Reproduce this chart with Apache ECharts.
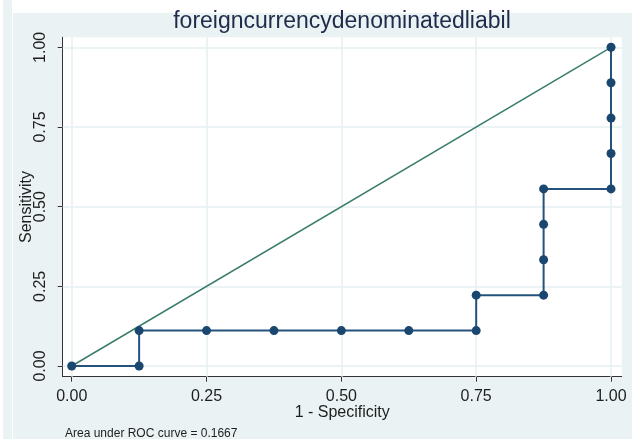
<!DOCTYPE html>
<html>
<head>
<meta charset="utf-8">
<script src="https://cdn.jsdelivr.net/npm/echarts@6/dist/echarts.min.js"></script>
<style>
  html, body { margin: 0; padding: 0; background: #ffffff; }
  #chart { width: 632px; height: 439px; }
</style>
</head>
<body>
<div id="chart"></div>
<script>
// ROC curve points: false positive rate (1 - specificity) and sensitivity
const fpr = [0, 0.125, 0.125, 0.25, 0.375, 0.5, 0.625, 0.75, 0.75, 0.875, 0.875, 0.875, 0.875, 1, 1, 1, 1, 1];
const sensitivity = [0, 0, 0.1111, 0.1111, 0.1111, 0.1111, 0.1111, 0.1111, 0.2222, 0.2222, 0.3333, 0.4444, 0.5556, 0.5556, 0.6667, 0.7778, 0.8889, 1];
// Chance reference line
const refX = [0, 1];
const refY = [0, 1];
// Axis ticks shared by both axes
const tickValues = [0, 0.25, 0.5, 0.75, 1];

const titleText = 'foreigncurrencydenominatedliabil';
const xTitle = '1 - Specificity';
const yTitle = 'Sensitivity';
const areaNote = 'Area under ROC curve = 0.1667';

const navy = '#1a476f';
const refColor = '#3a7d6c';
const gridColor = '#e6eff2';
const panelColor = '#eaf2f3';
const textColor = '#1e1e1e';

const rocData = fpr.map((x, i) => [x, sensitivity[i]]);
const refData = refX.map((x, i) => [x, refY[i]]);

const axisCommon = {
  type: 'value',
  splitLine: { show: false },
  axisLine: { show: true, onZero: false, lineStyle: { color: '#333333', width: 1 } },
  axisTick: { show: true, length: 5, customValues: tickValues, lineStyle: { color: '#333333', width: 1 } },
  axisLabel: {
    customValues: tickValues,
    formatter: v => v.toFixed(2),
    color: textColor,
    fontFamily: 'Liberation Sans, Arial, sans-serif',
    fontSize: 16
  },
  nameTextStyle: { color: textColor, fontFamily: 'Liberation Sans, Arial, sans-serif', fontSize: 16 },
  nameLocation: 'middle',
  nameMoveOverlap: false
};

const chart = echarts.init(document.getElementById('chart'), null, { renderer: 'canvas' });

chart.setOption({
  animation: false,
  backgroundColor: '#ffffff',
  graphic: [
    { type: 'rect', z: -10, shape: { x: 3, y: 0, width: 9, height: 439 }, style: { fill: panelColor } },
    { type: 'rect', z: -10, shape: { x: 13, y: 13, width: 619, height: 426 }, style: { fill: panelColor } },
    {
      type: 'text', left: 65, top: 428,
      style: { text: areaNote, fill: textColor, font: '12px "Liberation Sans", Arial, sans-serif' }
    }
  ],
  title: {
    text: titleText,
    left: 342, top: 10, textAlign: 'center', padding: 0,
    textStyle: { color: '#1f2b4a', fontFamily: 'Liberation Sans, Arial, sans-serif', fontSize: 23, fontWeight: 'normal' }
  },
  grid: {
    left: 62.7, right: 10.3, top: 37.3, bottom: 62.3,
    show: true, backgroundColor: '#ffffff', borderWidth: 0
  },
  xAxis: Object.assign({}, axisCommon, {
    min: -0.0167, max: 1.0198,
    name: xTitle, nameGap: 28,
    axisLabel: Object.assign({}, axisCommon.axisLabel, { margin: 12 })
  }),
  yAxis: Object.assign({}, axisCommon, {
    min: -0.0336, max: 1.0314,
    name: yTitle, nameGap: 28, nameRotate: 90,
    axisLabel: Object.assign({}, axisCommon.axisLabel, { rotate: 90, margin: 14 })
  }),
  series: [
    {
      // light reference grid at the tick positions, kept beneath the curves
      type: 'line', data: [], silent: true, z: 1,
      markLine: {
        z: 1, silent: true, symbol: 'none', animation: false,
        label: { show: false },
        lineStyle: { color: gridColor, width: 1.5, type: 'solid' },
        data: tickValues.map(v => ({ xAxis: v })).concat(tickValues.map(v => ({ yAxis: v })))
      }
    },
    {
      type: 'line', data: refData, z: 2,
      showSymbol: false, symbol: 'none',
      lineStyle: { color: refColor, width: 1.5 }
    },
    {
      type: 'line', data: rocData, z: 3,
      symbol: 'circle', symbolSize: 9, showAllSymbol: true,
      itemStyle: { color: navy },
      lineStyle: { color: '#24527c', width: 2 }
    }
  ]
});
</script>
</body>
</html>
